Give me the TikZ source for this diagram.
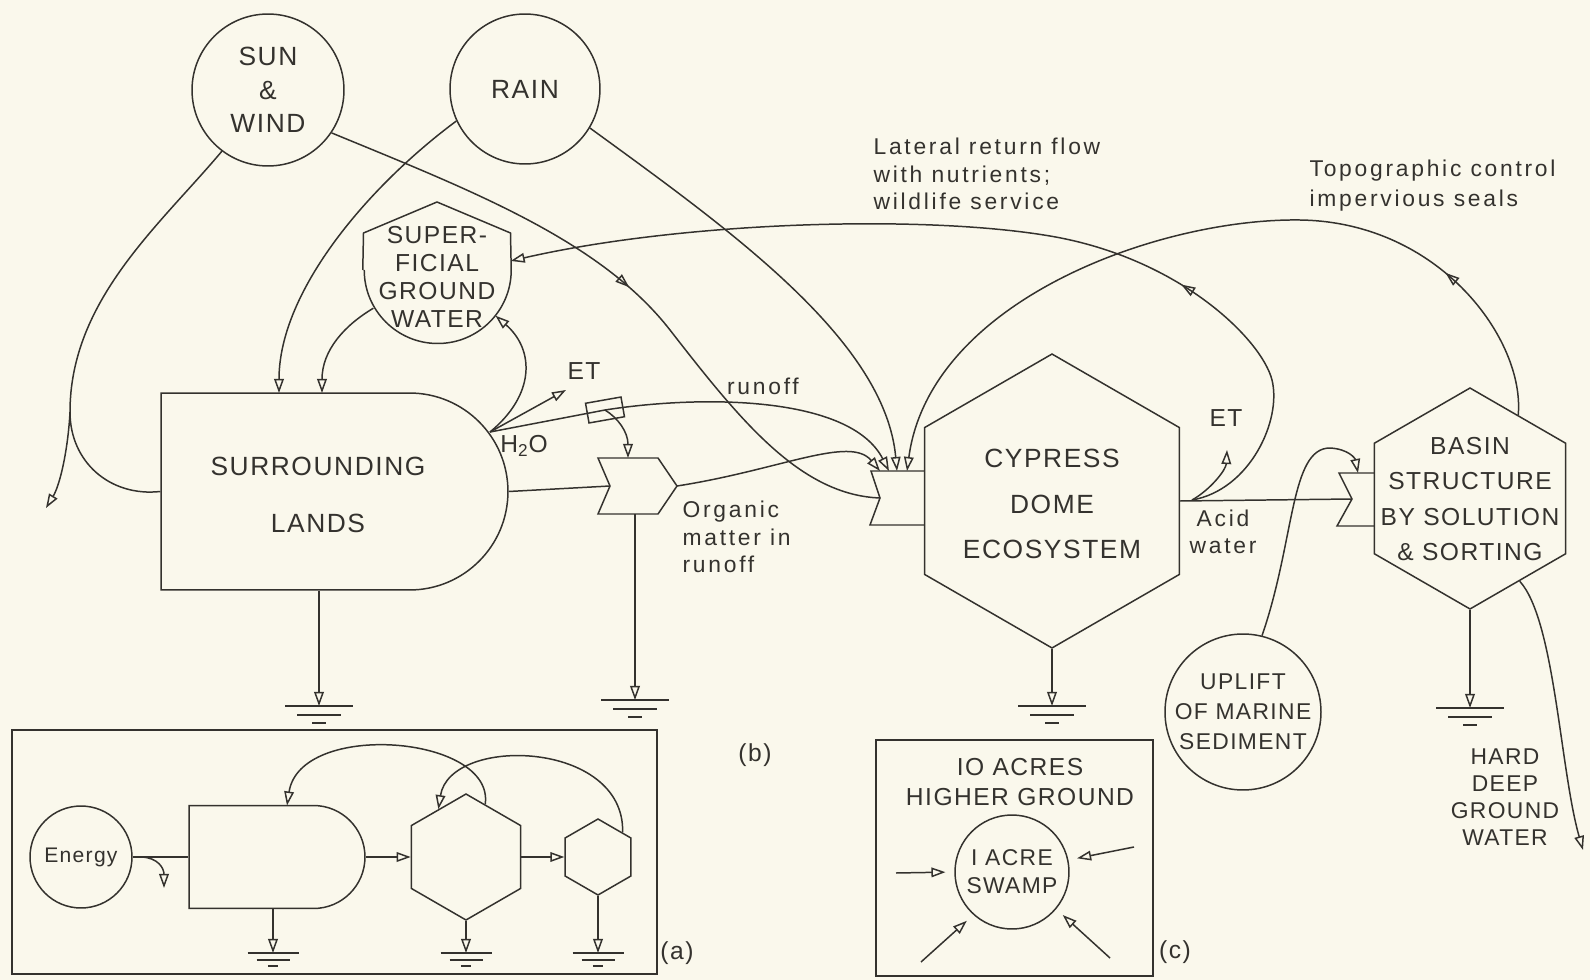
\documentclass[tikz,border=0pt]{standalone}
\usepackage{fontspec}
\setmainfont{Liberation Sans}
\newfontfamily\capsf{Liberation Sans}[LetterSpace=6]
\newfontfamily\lowf{Liberation Sans}[LetterSpace=12]
\usetikzlibrary{shapes.geometric,shapes.misc,arrows.meta,calc,decorations.markings}
\usepackage{xcolor}
\definecolor{ink}{RGB}{52,50,46}
\definecolor{paper}{RGB}{250,248,236}

\begin{document}
\begin{tikzpicture}[x=0.02cm, y=-0.02cm, line width=0.85pt, color=ink,
  source/.style={circle, draw, inner sep=0pt, align=center},
  tank/.style={circle, inner sep=0pt},
  producer/.style={rounded rectangle, rounded rectangle west arc=none, draw, inner sep=0pt},
  consumer/.style={regular polygon, regular polygon sides=6, shape border rotate=30, draw, inner sep=0pt},
  frame/.style={draw, inner sep=0pt},
  flow/.style={-{Triangle[open,length=8pt,width=5.5pt]}},
  midarrow/.style={postaction={decorate}, decoration={markings, mark=at position #1 with {\arrow{Triangle[open,length=8pt,width=5.5pt]}}}},
  capfont/.style={font=\capsf\fontsize{15pt}{19pt}\selectfont, align=center},
  capmid/.style={font=\capsf\fontsize{14pt}{16pt}\selectfont, align=center},
  capsmall/.style={font=\capsf\fontsize{13pt}{17pt}\selectfont, align=center},
  note/.style={font=\lowf\fontsize{13pt}{15.5pt}\selectfont},
  earth/.pic={\draw (-34,0) -- (34,0) (-22,9) -- (22,9) (-7,17) -- (7,17);}
]
  \useasboundingbox (0,0) rectangle (1590,980);
  \fill[paper] (0,0) rectangle (1590,980);

  \node[source, capfont, minimum size=3.04cm] (sun) at (268,90) {SUN\\\&\\WIND};
  \node[source, capfont, minimum size=3cm] (rain) at (525,89) {RAIN};

  \node[tank, minimum size=2.94cm] (sgw) at (437,270) {};
  \draw (sgw.west) -- (363.5,233) -- (437,202) -- (510.5,233) -- (sgw.east) arc[start angle=0, end angle=180, radius=73.5];
  \node[capmid] (sgwtext) at (437,277) {SUPER-\\FICIAL\\GROUND\\WATER};

  \node[producer, minimum width=6.94cm, minimum height=3.94cm] (sl) at (334.5,491.5) {};
  \node[capfont] (sltext) at (318,495) {SURROUNDING\\[13pt]LANDS};

  \node[consumer, minimum size=5.88cm] (cyp) at (1052,501) {};
  \node[capfont] (cyptext) at (1052,504) {CYPRESS\\[7pt]DOME\\[7pt]ECOSYSTEM};

  \node[consumer, minimum size=4.42cm] (basin) at (1470,498.5) {};
  \node[capmid, font=\capsf\fontsize{14pt}{20pt}\selectfont] (basintext) at (1470,499) {BASIN\\STRUCTURE\\BY SOLUTION\\\& SORTING};

  \node[source, capsmall, minimum size=2.96cm] (uplift) at (1243,712) {UPLIFT\\OF MARINE\\SEDIMENT};

  \coordinate (cgnotch) at (880,498);
  \coordinate (cga) at (880,471);
  \coordinate (cgb) at (889,471);
  \coordinate (cgc) at (897,471);
  \coordinate (cgd) at (907,471);
  \draw (924.7,471) -- (871,471) -- (cgnotch) -- (870,525) -- (924.7,525);

  \coordinate (bgnotch) at (1352,499);
  \coordinate (bgtop) at (1358,473);
  \draw (1374.3,473) -- (1339,473) -- (bgnotch) -- (1337,526) -- (1374.3,526);

  \coordinate (ognotch) at (610,486);
  \coordinate (ogtip) at (677,486);
  \coordinate (ogtop) at (628,458);
  \coordinate (ogbot) at (635,514);
  \draw (598,458) -- (658,458) -- (ogtip) -- (658,514) -- (598,514) -- (ognotch) -- cycle;

  \node[draw, rotate=10, inner sep=0pt, minimum width=0.72cm, minimum height=0.4cm] (sw) at (605,410) {};

  \coordinate (slsink) at (319,706);
  \coordinate (ogsink) at (635,700);
  \coordinate (cypsink) at (1052,706);
  \coordinate (basinsink) at (1470,708);
  \pic at (slsink) {earth};
  \pic at (ogsink) {earth};
  \pic at (cypsink) {earth};
  \pic at (basinsink) {earth};

  \coordinate (sunsplit) at (70,412);
  \coordinate (sunloss) at (46,508);
  \coordinate (slrain) at (279,393);
  \coordinate (slsgw) at (322,393);
  \coordinate (hsplit) at (490,432);
  \coordinate (etsl) at (566,390);
  \coordinate (csplit) at (1192,500);
  \coordinate (cypet) at (1227,450);
  \coordinate (deepout) at (1583,850);

  \draw (sun.233) .. controls (160,225) and (70,300) .. (sunsplit) .. controls (70,462) and (110,497) .. (sl.west);
  \draw[flow] (sunsplit) .. controls (68,450) and (60,485) .. (sunloss);
  \draw[midarrow=0.5] (sun.326) .. controls (470,190) and (600,240) .. (670,330) .. controls (740,420) and (800,495) .. (cgnotch);

  \draw[flow] (rain.205) .. controls (370,185) and (279,290) .. (slrain);
  \draw[flow] (rain.-31) .. controls (730,230) and (885,340) .. (cgc);
  \draw[flow] (sgw.211) .. controls (345,325) and (322,350) .. (slsgw);

  \draw[flow] (hsplit) .. controls (535,395) and (535,350) .. (sgw.-38);
  \draw[flow] (hsplit) -- (etsl);
  \draw[flow] (hsplit) -- (sw.center) .. controls (700,395) and (850,395) .. (cgb);
  \draw[flow] (sw.center) .. controls (618,418) and (628,432) .. (ogtop);
  \draw (sl.east) -- (ognotch);
  \draw[flow] (ogtip) .. controls (780,470) and (850,435) .. (cga);
  \draw[flow] (ogbot) -- (ogsink);
  \draw[flow] (sl.south -| slsink) -- (slsink);

  \draw[flow] (cyp.south) -- (cypsink);
  \draw (cyp.east) -- (bgnotch);
  \draw[flow] (csplit) .. controls (1210,490) and (1226,470) .. (cypet);
  \draw[flow, midarrow=0.3] (csplit) .. controls (1250,490) and (1282,420) .. (1272,380) .. controls (1262,340) and (1180,258) .. (1050,236) .. controls (920,214) and (680,222) .. (sgw.7);
  \draw[flow, midarrow=0.2] (basin.60) .. controls (1525,340) and (1440,222) .. (1300,220) .. controls (1160,218) and (930,300) .. (cgd);
  \draw[flow] (basin.south) -- (basinsink);
  \draw[flow] (basin.-59) .. controls (1555,620) and (1560,770) .. (deepout);
  \draw[flow] (uplift.76) .. controls (1295,540) and (1290,448) .. (1330,448) .. controls (1348,449) and (1355,458) .. (bgtop);

  \node[capmid] (etsltext) at (584,371) {ET};
  \node[capmid] (h2otext) at (524,446) {H\textsubscript{2}O};
  \node[note] (runofftext) at (763,386) {runoff};
  \node[note, align=left, anchor=west] (orgtext) at (676,537) {Organic\\ matter in\\ runoff};
  \node[capmid] (cypettext) at (1226,418) {ET};
  \node[note, align=center] (acidtext) at (1223,532) {Acid\\water};
  \node[note, align=left, anchor=west] (lateraltext) at (867,174) {Lateral return flow\\with nutrients;\\wildlife service};
  \node[note, align=left, anchor=west, font=\lowf\fontsize{13pt}{17pt}\selectfont] (topotext) at (1303,186) {Topographic control\\impervious seals};
  \node[capsmall, font=\capsf\fontsize{13pt}{15.5pt}\selectfont] (deeptext) at (1505,797) {HARD\\DEEP\\GROUND\\WATER};
  \node[capmid] (labb) at (755,755) {(b)};

  \node[frame, minimum width=12.9cm, minimum height=4.88cm] (insetA) at (334.5,852) {};
  \node[source, font=\capsf\fontsize{12pt}{14pt}\selectfont, minimum size=2.04cm] (energy) at (81,857) {Energy};
  \node[producer, minimum width=3.52cm, minimum height=2.06cm] (istore) at (277,857) {};
  \node[consumer, minimum size=2.52cm] (ihexa) at (466,857) {};
  \node[consumer, minimum size=1.52cm] (ihexb) at (598,857) {};
  \coordinate (enfork) at (142,857);
  \coordinate (enloss) at (164,888);
  \coordinate (istoretop) at (287,805.5);
  \coordinate (isink1) at (273,953);
  \coordinate (isink2) at (466,953);
  \coordinate (isink3) at (598,953);
  \pic[scale=0.75] at (isink1) {earth};
  \pic[scale=0.75] at (isink2) {earth};
  \pic[scale=0.75] at (isink3) {earth};
  \draw (energy.east) -- (istore.west);
  \draw[flow] (enfork) .. controls (158,858) and (164,868) .. (enloss);
  \draw[flow] (istore.east) -- (ihexa.west);
  \draw[flow] (ihexa.east) -- (ihexb.west);
  \draw[flow] (ihexa.70) .. controls (495,735) and (300,720) .. (istoretop);
  \draw[flow] (ihexb.45) .. controls (625,740) and (450,735) .. (ihexa.120);
  \draw[flow] (istore.south -| isink1) -- (isink1);
  \draw[flow] (ihexa.south) -- (isink2);
  \draw[flow] (ihexb.south) -- (isink3);
  \node[capmid] (laba) at (677,953) {(a)};

  \node[frame, minimum width=5.54cm, minimum height=4.72cm] (insetC) at (1014.5,858) {};
  \node[capmid, font=\capsf\fontsize{14pt}{17pt}\selectfont] (acrestext) at (1020,782) {IO ACRES\\HIGHER GROUND};
  \node[source, capsmall, font=\capsf\fontsize{13pt}{16pt}\selectfont, minimum size=2.28cm] (swamp) at (1012,872) {I ACRE\\SWAMP};
  \coordinate (cw) at (896,873);
  \coordinate (ce) at (1134,847);
  \coordinate (csw) at (921,962);
  \coordinate (cse) at (1110,958);
  \draw[flow, shorten >=5pt] (cw) -- (swamp.180);
  \draw[flow, shorten >=5pt] (ce) -- (swamp.12);
  \draw[flow, shorten >=5pt] (csw) -- (swamp.228);
  \draw[flow, shorten >=5pt] (cse) -- (swamp.-40);
  \node[capmid] (labc) at (1175,952) {(c)};
\end{tikzpicture}
\end{document}
